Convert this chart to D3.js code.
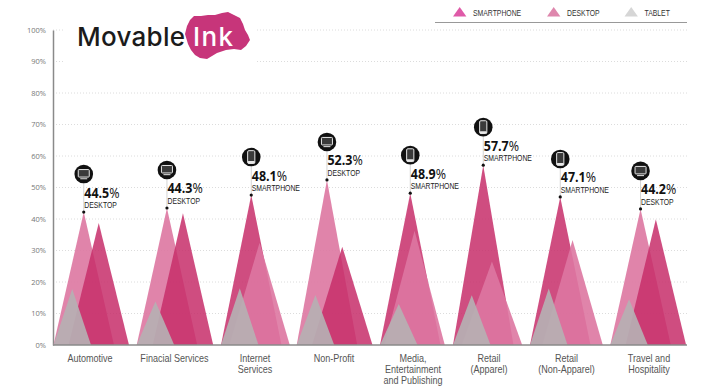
<!DOCTYPE html>
<html>
<head>
<meta charset="utf-8">
<script src="https://d3js.org/d3.v7.min.js"></script>
<style>
    html, body { margin: 0; padding: 0; background: #fff; }
    svg { display: block; }
    text { font-family: "Liberation Sans", sans-serif; }
    .yaxis text { font-family: "Open Sans", sans-serif; font-size: 7.5px; fill: #777; }
    .value { font-family: "Open Sans", sans-serif; font-size: 14.5px; font-weight: 700; fill: #111; }
    .value .pct { font-weight: 400; }
    .device { font-size: 9px; fill: #222; }
    .category { font-size: 10.5px; fill: #555; text-anchor: middle; }
    .legend-label { font-size: 9px; fill: #333; }
    .logo-text { font-family: Inter, sans-serif; font-size: 26px; font-weight: 500; }
</style>
</head>
<body>
<div id="chart"></div>
<script>
const categories = ["Automotive", "Finacial Services", "Internet Services", "Non-Profit",
    "Media, Entertainment and Publishing", "Retail (Apparel)", "Retail (Non-Apparel)", "Travel and Hospitality"];
const categoryLines = [["Automotive"], ["Finacial Services"], ["Internet", "Services"], ["Non-Profit"],
    ["Media,", "Entertainment", "and Publishing"], ["Retail", "(Apparel)"], ["Retail", "(Non-Apparel)"], ["Travel and", "Hospitality"]];

// heights as drawn, these don't always agree with the printed labels
const smartphone = [38.7, 41.8, 47.6, 31.2, 48.2, 57.1, 47.0, 39.9];
const desktop = [42.2, 43.5, 32.5, 52.4, 36.3, 26.5, 33.3, 43.2];
const tablet = [17.8, 13.8, 18.0, 15.9, 13.0, 15.8, 17.9, 14.5];

const topValues = ["44.5", "44.3", "48.1", "52.3", "48.9", "57.7", "47.1", "44.2"];
const topDevices = ["DESKTOP", "DESKTOP", "SMARTPHONE", "DESKTOP", "SMARTPHONE", "SMARTPHONE", "SMARTPHONE", "DESKTOP"];
const yTicks = [0, 10, 20, 30, 40, 50, 60, 70, 80, 90, 100];
const legendNames = ["SMARTPHONE", "DESKTOP", "TABLET"];

const width = 720, height = 390;
const plotLeft = 53, plotRight = 687, plotTop = 30, plotBottom = 345;
const bigWidth = 60.5, smallWidth = 37.5;

// layout only: where each group starts, how far the shorter big triangle is pushed, label centres
const groupStart = [53.5, 136.7, 221, 296.7, 380, 453, 530, 610.3];
const secondShift = [15, 16, 8.3, 15.3, 4.3, 8.7, 12.3, 15.3];
const labelCentre = [90, 174.5, 255, 334, 413, 489, 566.5, 649];

const colors = {
    smartphone: {fill: "#c72e6a", opacity: 0.85},
    desktop: {fill: "#dd77a1", opacity: 0.9},
    tablet: {fill: "#b6b0b3", opacity: 0.92}
};

const y = d3.scaleLinear().domain([0, 100]).range([plotBottom, plotTop]);
const x = d3.scaleOrdinal().domain(categories).range(groupStart);
const shift = d3.scaleOrdinal().domain(categories).range(secondShift);
const labelX = d3.scaleOrdinal().domain(categories).range(labelCentre);

// no narrow font here, so squeeze the text to the width it has in the picture
function condense(selection, k) {
    selection.each(function () {
        d3.select(this)
            .attr("textLength", this.getComputedTextLength() * k)
            .attr("lengthAdjust", "spacingAndGlyphs");
    });
}

const svg = d3.select("#chart").append("svg")
    .attr("width", width)
    .attr("height", height);

// gridlines
svg.append("g").selectAll("line")
    .data(yTicks.slice(1))
    .join("line")
    .attr("x1", plotLeft)
    .attr("x2", plotRight)
    .attr("y1", d => y(d))
    .attr("y2", d => y(d))
    .attr("stroke", "#dcdcdc")
    .attr("stroke-width", 1)
    .attr("stroke-dasharray", "1,2");

// axis
const yAxis = d3.axisLeft(y)
    .tickValues(yTicks)
    .tickSize(0)
    .tickPadding(7)
    .tickFormat(d => d + "%");
svg.append("g")
    .attr("class", "yaxis")
    .attr("transform", `translate(${plotLeft},0)`)
    .call(yAxis)
    .select(".domain")
    .attr("stroke", "#8a8a8a")
    .attr("stroke-width", 1.5);

// triangles, tallest at the back
const triangle = d3.line();
const groups = svg.append("g").selectAll("g")
    .data(categories)
    .join("g");

groups.each(function (cat, i) {
    const lead = desktop[i] >= smartphone[i];
    const tris = [
        {key: "smartphone", value: smartphone[i], start: x(cat) + (lead ? shift(cat) : 0), w: bigWidth},
        {key: "desktop", value: desktop[i], start: x(cat) + (lead ? 0 : shift(cat)), w: bigWidth},
        {key: "tablet", value: tablet[i], start: x(cat), w: smallWidth}
    ].sort((a, b) => b.value - a.value);

    d3.select(this).selectAll("path")
        .data(tris)
        .join("path")
        .attr("d", d => triangle([[d.start, y(0)], [d.start + d.w / 2, y(d.value)], [d.start + d.w, y(0)]]))
        .attr("fill", d => colors[d.key].fill)
        .attr("fill-opacity", d => colors[d.key].opacity);
});

// x axis sits over the triangles
svg.append("line")
    .attr("x1", plotLeft)
    .attr("x2", plotRight)
    .attr("y1", y(0))
    .attr("y2", y(0))
    .attr("stroke", "#8a8a8a")
    .attr("stroke-width", 1.5);

// category labels
svg.append("g").selectAll("text")
    .data(categories)
    .join("text")
    .attr("class", "category")
    .attr("y", 362)
    .each(function (cat, i) {
        d3.select(this).selectAll("tspan")
            .data(categoryLines[i])
            .join("tspan")
            .attr("x", labelX(cat))
            .attr("dy", (d, j) => j === 0 ? 0 : 11)
            .text(d => d)
            .call(condense, 0.86);
    });

// callouts
const callouts = svg.append("g").selectAll("g")
    .data(categories)
    .join("g")
    .attr("transform", (cat, i) => {
        const peak = Math.max(smartphone[i], desktop[i]);
        return `translate(${x(cat) + bigWidth / 2},${y(peak)})`;
    });

callouts.append("line")
    .attr("y1", -38)
    .attr("y2", 0)
    .attr("stroke", "#d4d4d4")
    .attr("stroke-width", 1);
callouts.append("circle").attr("r", 1.6).attr("fill", "#111");
callouts.append("circle").attr("cy", -38).attr("r", 9.3).attr("fill", "#111");

const value = callouts.append("text")
    .attr("class", "value")
    .attr("x", 0.5)
    .attr("y", -14.5)
    .text((cat, i) => topValues[i]);
value.append("tspan").attr("class", "pct").text("%");
value.call(condense, 0.86);

callouts.append("text")
    .attr("class", "device")
    .attr("x", 0.5)
    .attr("y", -4)
    .text((cat, i) => topDevices[i])
    .call(condense, 0.76);

callouts.each(function (cat, i) {
    const icon = d3.select(this).append("g").attr("transform", "translate(0,-38)");
    if (topDevices[i] === "DESKTOP") {
        icon.append("rect").attr("x", -5.5).attr("y", -4.5).attr("width", 11).attr("height", 7.5)
            .attr("rx", 0.8).attr("fill", "#3a3a3a").attr("stroke", "#e8e8e8").attr("stroke-width", 1);
        icon.append("rect").attr("x", -3.5).attr("y", 4.2).attr("width", 7).attr("height", 1)
            .attr("fill", "#e8e8e8");
    } else {
        icon.append("rect").attr("x", -3.6).attr("y", -6.4).attr("width", 7.2).attr("height", 12.8)
            .attr("rx", 1.2).attr("fill", "#3a3a3a").attr("stroke", "#e8e8e8").attr("stroke-width", 1);
        icon.append("rect").attr("x", -3.6).attr("y", 4).attr("width", 7.2).attr("height", 2.4)
            .attr("rx", 1).attr("fill", "#e8e8e8");
    }
});

// legend
const legendX = [453, 547, 624.5];
const legendFill = ["#df5aa8", "#de87ad", "#d6d6d6"];
const legend = svg.append("g").selectAll("g")
    .data(legendNames)
    .join("g")
    .attr("transform", (d, i) => `translate(${legendX[i]},0)`);
legend.append("path")
    .attr("d", triangle([[0, 16.5], [6.7, 7], [13.4, 16.5]]))
    .attr("fill", (d, i) => legendFill[i]);
legend.append("text")
    .attr("class", "legend-label")
    .attr("x", 20)
    .attr("y", 15.5)
    .text(d => d)
    .call(condense, 0.76);
svg.append("line")
    .attr("x1", 435)
    .attr("x2", 687)
    .attr("y1", 22.5)
    .attr("y2", 22.5)
    .attr("stroke", "#999")
    .attr("stroke-width", 1.2);

// logo
const logo = svg.append("g");
logo.append("rect").attr("x", 63).attr("y", 18).attr("width", 193).attr("height", 50).attr("fill", "#fff");
logo.append("path")
    .attr("d", d3.line().curve(d3.curveLinearClosed)([[185, 34], [187, 26], [190, 20], [194, 16], [201, 16], [208, 15],
        [215, 15], [222, 13], [228, 12], [234, 15], [240, 18], [243, 24], [245, 30], [248, 35], [250, 40], [246, 46],
        [241, 50], [234, 49], [226, 50], [217, 53], [207, 59], [200, 58], [195, 55], [191, 50], [188, 44]]))
    .attr("fill", "#c7357a");
logo.append("text")
    .attr("class", "logo-text")
    .attr("x", 77)
    .attr("y", 46)
    .attr("textLength", 108)
    .attr("fill", "#1b1b1b")
    .text("Movable");
logo.append("text")
    .attr("class", "logo-text")
    .attr("x", 193)
    .attr("y", 46)
    .attr("textLength", 40)
    .attr("fill", "#fff")
    .text("Ink");
</script>
</body>
</html>
